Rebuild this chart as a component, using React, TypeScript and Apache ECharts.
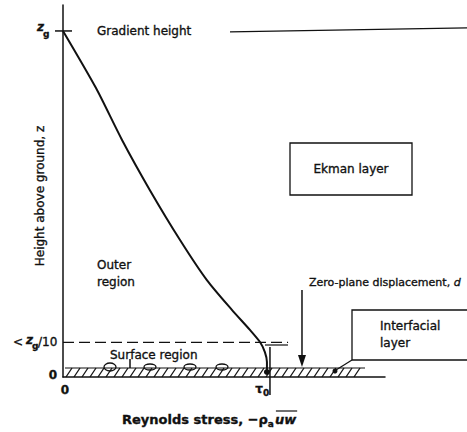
import React, { useEffect, useRef } from "react";
import * as echarts from "echarts";

// Reynolds stress profile through the atmospheric boundary layer
// (stress in units of the surface value tau0, height in units of z_g)
const stressValues = [0, 0.161, 0.288, 0.424, 0.571, 0.702, 0.824, 0.912, 0.961, 0.985, 0.995, 0.995];
const heightValues = [1.0, 0.835, 0.685, 0.54, 0.396, 0.28, 0.194, 0.136, 0.101, 0.072, 0.043, 0.014];

const gradientHeight = 1.0; // z_g
const surfaceTop = 0.1; // z_g / 10
const tau0 = 1.0;
const zeroPlaneStress = 1.166;
const hatchDepth = 0.026;

const X_MAX = 1.571;
const Y_MAX = 1.075;

const FONT = '"DejaVu Sans", "Liberation Sans", sans-serif';
const INK = "#111";

const fontOf = (o: any) =>
  `${o.italic ? "italic " : ""}${o.bold ? "bold " : ""}${o.size || 12}px ${FONT}`;

let measureCtx: CanvasRenderingContext2D | null = null;
function measure(text: string, o: any = {}) {
  if (!measureCtx) measureCtx = document.createElement("canvas").getContext("2d");
  if (!measureCtx) return text.length * 7;
  measureCtx.font = fontOf(o);
  return measureCtx.measureText(text).width;
}

function txt(x: number, y: number, text: string, o: any = {}) {
  return {
    type: "text",
    x,
    y,
    rotation: o.rotation || 0,
    silent: true,
    style: {
      text,
      fill: INK,
      stroke: INK,
      lineWidth: o.weight ?? 0.35,
      font: fontOf(o),
      textAlign: o.align || "left",
      textVerticalAlign: "middle",
    },
  };
}

function ln(x1: number, y1: number, x2: number, y2: number, w = 1.5, dash?: number[]) {
  return {
    type: "line",
    silent: true,
    shape: { x1, y1, x2, y2 },
    style: { stroke: INK, lineWidth: w, lineDash: dash },
  };
}

export default function App() {
  const ref = useRef<HTMLDivElement>(null);

  useEffect(() => {
    if (!ref.current) return;
    const chart = echarts.init(ref.current, undefined, { renderer: "svg" });
    const curve = stressValues.map((s, i) => [s, heightValues[i]]);

    chart.setOption({
      animation: false,
      backgroundColor: "#fff",
      grid: { left: 63, top: 5, width: 322, height: 372 },
      xAxis: {
        type: "value",
        min: 0,
        max: X_MAX,
        axisLine: { show: true, onZero: false, lineStyle: { color: INK, width: 1.5 } },
        axisTick: { show: false },
        axisLabel: { show: false },
        splitLine: { show: false },
      },
      yAxis: {
        type: "value",
        min: 0,
        max: Y_MAX,
        axisLine: { show: true, onZero: false, lineStyle: { color: INK, width: 1.5 } },
        axisTick: { show: false },
        axisLabel: { show: false },
        splitLine: { show: false },
      },
      series: [
        {
          type: "line",
          data: curve,
          smooth: 0.25,
          symbol: "none",
          lineStyle: { color: INK, width: 2 },
        },
      ],
    });

    const P = (x: number, y: number) =>
      chart.convertToPixel({ gridIndex: 0 }, [x, y]) as number[];

    const origin = P(0, 0);
    const zg = P(0, gradientHeight);
    const zs = P(0, surfaceTop);
    const dashEnd = P(1.098, surfaceTop);
    const tau = P(tau0, 0);
    const hatchTop = P(0, hatchDepth)[1];
    const zp = P(zeroPlaneStress, 0);
    const curveFoot = P(stressValues[stressValues.length - 1], 0);
    const axisX = origin[0];
    const groundY = origin[1];

    const g: any[] = [];

    // gradient height marker and line
    g.push(ln(axisX - 8, zg[1], axisX + 9, zg[1], 1.5));
    g.push(txt(37, zg[1] - 4, "z", { italic: true, bold: true }));
    g.push(txt(43, zg[1] + 3, "g", { size: 9, bold: true }));
    g.push(txt(97, zg[1], "Gradient height"));
    g.push(ln(230, zg[1] + 1, 467, zg[1] - 3, 1.2));

    // top of the surface region
    g.push(ln(axisX, zs[1], dashEnd[0], zs[1], 1.2, [11, 5]));
    g.push(txt(13, zs[1], "<"));
    g.push(txt(26, zs[1] - 2, "z", { italic: true, bold: true }));
    g.push(txt(32, zs[1] + 4, "g", { size: 9, bold: true }));
    g.push(txt(38, zs[1], "/10"));

    // zero labels
    g.push(txt(57, groundY - 2, "0", { align: "right", bold: true }));
    g.push(txt(65, groundY + 13, "0", { align: "center", bold: true }));

    // region labels
    g.push(txt(110, zs[1] + 13, "Surface region"));
    g.push(txt(97, 265, "Outer"));
    g.push(txt(97, 282, "region"));

    // axis titles
    g.push(txt(40, 196, "Height above ground, z", { rotation: Math.PI / 2, align: "center" }));
    const tf = { size: 13, bold: true };
    const part1 = "Reynolds stress, −ρ";
    let bx = 122;
    g.push(txt(bx, 419, part1, tf));
    bx += measure(part1, tf);
    g.push(txt(bx, 424, "a", { size: 9, bold: true }));
    bx += measure("a", { size: 9, bold: true }) + 1;
    const uwW = measure("uw", { ...tf, italic: true });
    g.push(txt(bx, 419, "uw", { ...tf, italic: true }));
    g.push(ln(bx + 1, 411, bx + uwW + 1, 411, 1.2));

    // ground roughness hatching
    g.push(ln(axisX + 2, hatchTop, 365, hatchTop, 1.2));
    for (let x = axisX + 3; x < 362; x += 8) {
      g.push(ln(x, groundY, x + 6, hatchTop, 1.3));
    }
    // roughness elements in the surface layer
    [110, 150, 190, 222].forEach((x, i) => {
      g.push({
        type: "ellipse",
        silent: true,
        shape: { cx: x, cy: hatchTop - 1, rx: 6, ry: i === 0 ? 4 : 3 },
        style: { fill: "none", stroke: INK, lineWidth: 1.3 },
      });
    });
    g.push(ln(130, hatchTop, 130, hatchTop - 9, 1.5));

    // surface stress tau0
    g.push(ln(tau[0] + 2, tau[1] - 30, tau[0] + 2, groundY + 18, 1.5));
    g.push(ln(tau[0] - 3, tau[1] - 32, tau[0] + 20, tau[1] - 32, 1.2));
    g.push(txt(263, groundY + 12, "τ", { align: "right", bold: true }));
    g.push(txt(263, groundY + 16, "0", { size: 9, bold: true }));
    g.push({
      type: "circle",
      silent: true,
      shape: { cx: curveFoot[0], cy: groundY - 5, r: 3 },
      style: { fill: INK },
    });

    // zero-plane displacement arrow
    const zpFont = { size: 11 };
    const zpText = "Zero-plane displacement, ";
    g.push(txt(309, 282, zpText, zpFont));
    g.push(txt(309 + measure(zpText, zpFont), 282, "d", { size: 11, italic: true }));
    g.push(ln(zp[0], 290, zp[0], groundY - 20, 1.5));
    g.push({
      type: "polygon",
      silent: true,
      shape: { points: [[zp[0] - 4, groundY - 22], [zp[0] + 4, groundY - 22], [zp[0], groundY - 10]] },
      style: { fill: INK },
    });

    // Ekman layer box
    g.push({
      type: "rect",
      silent: true,
      shape: { x: 290, y: 143, width: 122, height: 52 },
      style: { fill: "none", stroke: INK, lineWidth: 1.3 },
    });
    g.push(txt(351, 169, "Ekman layer", { align: "center" }));

    // interfacial layer box and leader
    g.push({
      type: "rect",
      silent: true,
      shape: { x: 352, y: 310, width: 130, height: 50 },
      style: { fill: "none", stroke: INK, lineWidth: 1.3 },
    });
    g.push(txt(380, 326, "Interfacial"));
    g.push(txt(380, 343, "layer"));
    g.push(ln(352, 360, 336, 370, 1.2));
    g.push({
      type: "circle",
      silent: true,
      shape: { cx: 335, cy: 371, r: 2.5 },
      style: { fill: INK },
    });

    chart.setOption({ graphic: g });

    return () => chart.dispose();
  }, []);

  return (
    <div
      ref={ref}
      style={{ position: "fixed", left: 0, top: 0, width: 467, height: 432, background: "#fff" }}
    />
  );
}
